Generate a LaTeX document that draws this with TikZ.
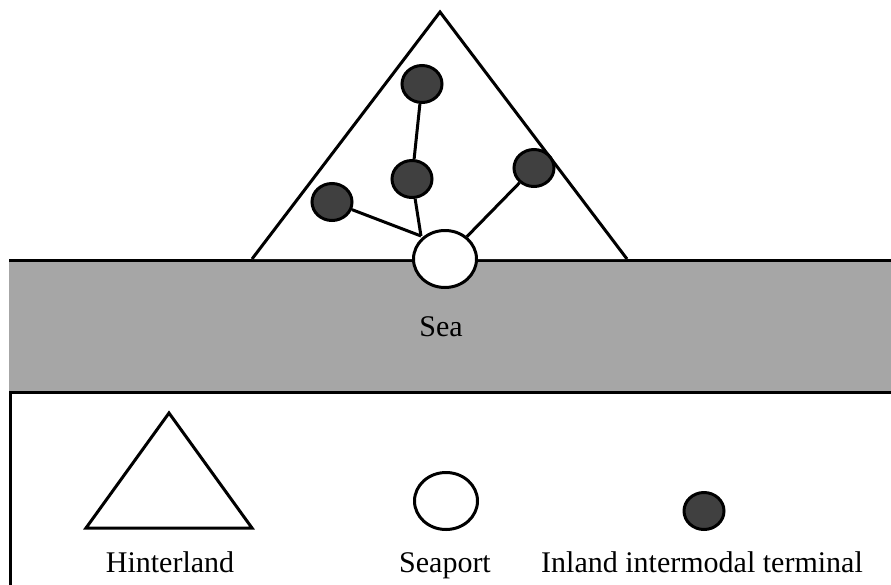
\documentclass[tikz,border=0pt]{standalone}
\usepackage{fontspec}
\setmainfont{Liberation Serif}
\usetikzlibrary{shapes.geometric}
\definecolor{seagray}{HTML}{A6A6A6}
\definecolor{termgray}{HTML}{404040}
\tikzset{
  outline/.style={draw=black,line width=3pt},
  seaportnode/.style={ellipse,outline,fill=white,minimum width=63pt,minimum height=57pt,inner sep=0pt},
  terminalnode/.style={ellipse,outline,fill=termgray,minimum width=40pt,minimum height=37pt,inner sep=0pt},
  link/.style={draw=black,line width=3pt},
  lbl/.style={font=\fontsize{30pt}{32pt}\selectfont,inner sep=0pt,anchor=base}
}
\begin{document}
\begin{tikzpicture}[x=1pt,y=-1pt]
\useasboundingbox (0,0) rectangle (891,584);
% sea band
\fill[seagray] (9,260) rectangle (891,392);
\node[lbl] (sea) at (441,336) {Sea};
% legend box
\draw[outline] (10,600) -- (10,392) -- (900,392);
% sea top line
\draw[outline] (9,260) -- (900,260);
% hinterland triangle
\coordinate (ha) at (440,12);
\coordinate (hl) at (252,259);
\coordinate (hr) at (627,259);
\draw[outline,line join=miter,fill=white] (hl) -- (ha) -- (hr);
% nodes
\node[seaportnode] (sp) at (445,259) {};
\node[terminalnode] (t1) at (422,84) {};
\node[terminalnode] (t2) at (412,179) {};
\node[terminalnode] (t3) at (332,202) {};
\node[terminalnode] (t4) at (534,168) {};
\coordinate (j) at (421,236);
\draw[link] (t1) -- (t2);
\draw[link] (t2) -- (j);
\draw[link] (t3) -- (j);
\draw[link] (t4) -- (sp);
% legend
\coordinate (la) at (169,413);
\coordinate (ll) at (86,528);
\coordinate (lr) at (252,528);
\draw[outline,line join=miter] (ll) -- (la) -- (lr) -- cycle;
\node[seaportnode] (lsp) at (446,501) {};
\node[terminalnode] (lt) at (704,511) {};
\node[lbl] (lh) at (170,572) {Hinterland};
\node[lbl] (ls) at (445,572) {Seaport};
\node[lbl] (li) at (702,572) {Inland intermodal terminal};
\end{tikzpicture}
\end{document}
